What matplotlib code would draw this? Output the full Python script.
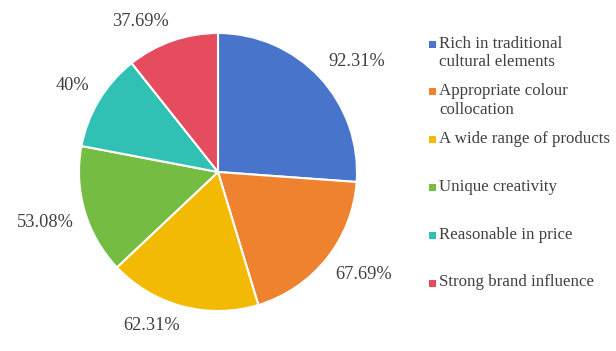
import numpy as np
import matplotlib.pyplot as plt
from matplotlib.patches import Rectangle

plt.rcParams['font.family'] = ['Liberation Serif', 'DejaVu Serif']

categories = ['Rich in traditional\ncultural elements', 'Appropriate colour\ncollocation',
              'A wide range of products', 'Unique creativity',
              'Reasonable in price', 'Strong brand influence']
values = [92.31, 67.69, 62.31, 53.08, 40, 37.69]
value_labels = ['92.31%', '67.69%', '62.31%', '53.08%', '40%', '37.69%']
colors = ['#4874CB', '#EE822F', '#F2BA02', '#75BD42', '#30C0B4', '#E54C5E']
text_color = '#404040'

W, H = 616, 351
fig = plt.figure(figsize=(W / 100, H / 100), dpi=100)

# pie centre / radius in pixels
cx, cy, r = 218, 172, 139
lim = 1.4
ax = fig.add_axes([(cx - r * lim) / W, (H - cy - r * lim) / H, 2 * r * lim / W, 2 * r * lim / H])

wedges, _ = ax.pie(values, colors=colors, startangle=90, counterclock=False,
                   wedgeprops=dict(edgecolor='white', linewidth=1.5))

# labels just outside each wedge, anchored at the corner nearest the pie
for w, lab in zip(wedges, value_labels):
    ang = np.deg2rad((w.theta1 + w.theta2) / 2)
    x, y = 1.08 * np.cos(ang), 1.08 * np.sin(ang)
    ax.text(x, y, lab, ha='left' if x > 0 else 'right',
            va='bottom' if y > 0 else 'top', fontsize=13.2, color=text_color)

ax.set_xlim(-lim, lim)
ax.set_ylim(-lim, lim)
ax.set_aspect('equal')
ax.axis('off')

# legend drawn by hand
legend_x = 432
legend_y0 = 44
legend_step = 47.8
for i, (lab, col) in enumerate(zip(categories, colors)):
    y = legend_y0 + i * legend_step
    fig.patches.append(Rectangle(((legend_x - 3.5) / W, (H - y - 3.5) / H), 7 / W, 7 / H,
                                 transform=fig.transFigure, facecolor=col, edgecolor='none'))
    fig.text((legend_x + 7) / W, (H - y + 8.5) / H, lab, ha='left', va='top',
             fontsize=12.2, color=text_color, linespacing=1.2)

fig.savefig('out.png', dpi=100, facecolor='white')
